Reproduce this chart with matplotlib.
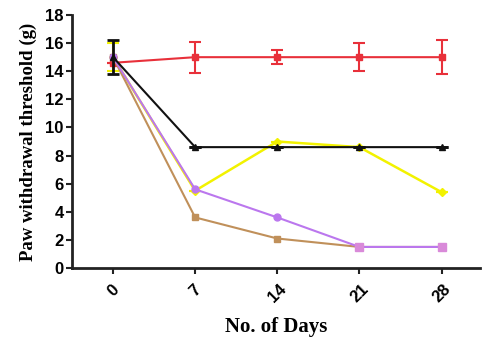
import matplotlib
matplotlib.use("Agg")
import matplotlib.pyplot as plt
import numpy as np

days = ["0", "7", "14", "21", "28"]

red_vals = [14.6, 15.0, 15.0, 15.0, 15.0]
red_err = [0.0, 1.1, 0.5, 1.0, 1.2]

black_vals = [15.0, 8.6, 8.6, 8.6, 8.6]
black_err = [1.2, 0.0, 0.0, 0.0, 0.0]

yellow_vals = [15.0, 5.5, 9.0, 8.6, 5.4]
yellow_err = [1.0, 0.0, 0.0, 0.0, 0.0]

purple_vals = [15.0, 5.6, 3.6, 1.5, 1.5]
brown_vals = [15.0, 3.6, 2.1, 1.5, 1.5]

x = np.arange(len(days))

fig = plt.figure(figsize=(4.83, 3.41), dpi=100)
ax = fig.add_axes([0.149, 0.214, 0.845, 0.742])

ax.errorbar(x, red_vals, yerr=red_err, color="#e8303a", lw=1.5, marker="s",
            ms=5, capsize=4, capthick=1.5, elinewidth=1.5, zorder=3)
ax.errorbar(x, yellow_vals, yerr=yellow_err, color="#f2f200", lw=1.8, marker="D",
            ms=4, capsize=4, capthick=1.5, elinewidth=1.5, zorder=3)
ax.plot(x, brown_vals, color="#c0905a", lw=1.5, marker="s", ms=5, zorder=4)
ax.plot(x, purple_vals, color="#bb77ee", lw=1.5, marker="o", ms=5, zorder=5)
ax.plot(x[3:], purple_vals[3:], ls="none", color="#d98ad9", marker="s", ms=6, zorder=6)
ax.errorbar(x, black_vals, yerr=black_err, color="#111111", lw=1.5, marker="^",
            ms=4, capsize=4, capthick=2, elinewidth=2, zorder=7)

ax.set_xlim(-0.5, 4.47)
ax.set_ylim(0, 18)
ax.set_yticks(range(0, 19, 2))
ax.set_xticks(x)
ax.set_xticklabels(days, rotation=45, ha="center")

for s in ["top", "right"]:
    ax.spines[s].set_visible(False)
for s in ["left", "bottom"]:
    ax.spines[s].set_linewidth(2)
    ax.spines[s].set_color("#222222")

ax.tick_params(axis="both", direction="out", length=4, width=1.5, color="#222222",
               labelsize=12, pad=2)
ax.tick_params(axis="x", pad=6)
for lab in ax.get_xticklabels() + ax.get_yticklabels():
    lab.set_fontfamily("Liberation Sans")
    lab.set_fontweight("bold")

ax.set_ylabel("Paw withdrawal threshold (g)", fontfamily="Liberation Serif",
              fontweight="bold", fontsize=13.5, labelpad=6)
ax.set_xlabel("No. of Days", fontfamily="Liberation Serif", fontweight="bold",
              fontsize=15, labelpad=8)

fig.savefig("out.png", dpi=100)
